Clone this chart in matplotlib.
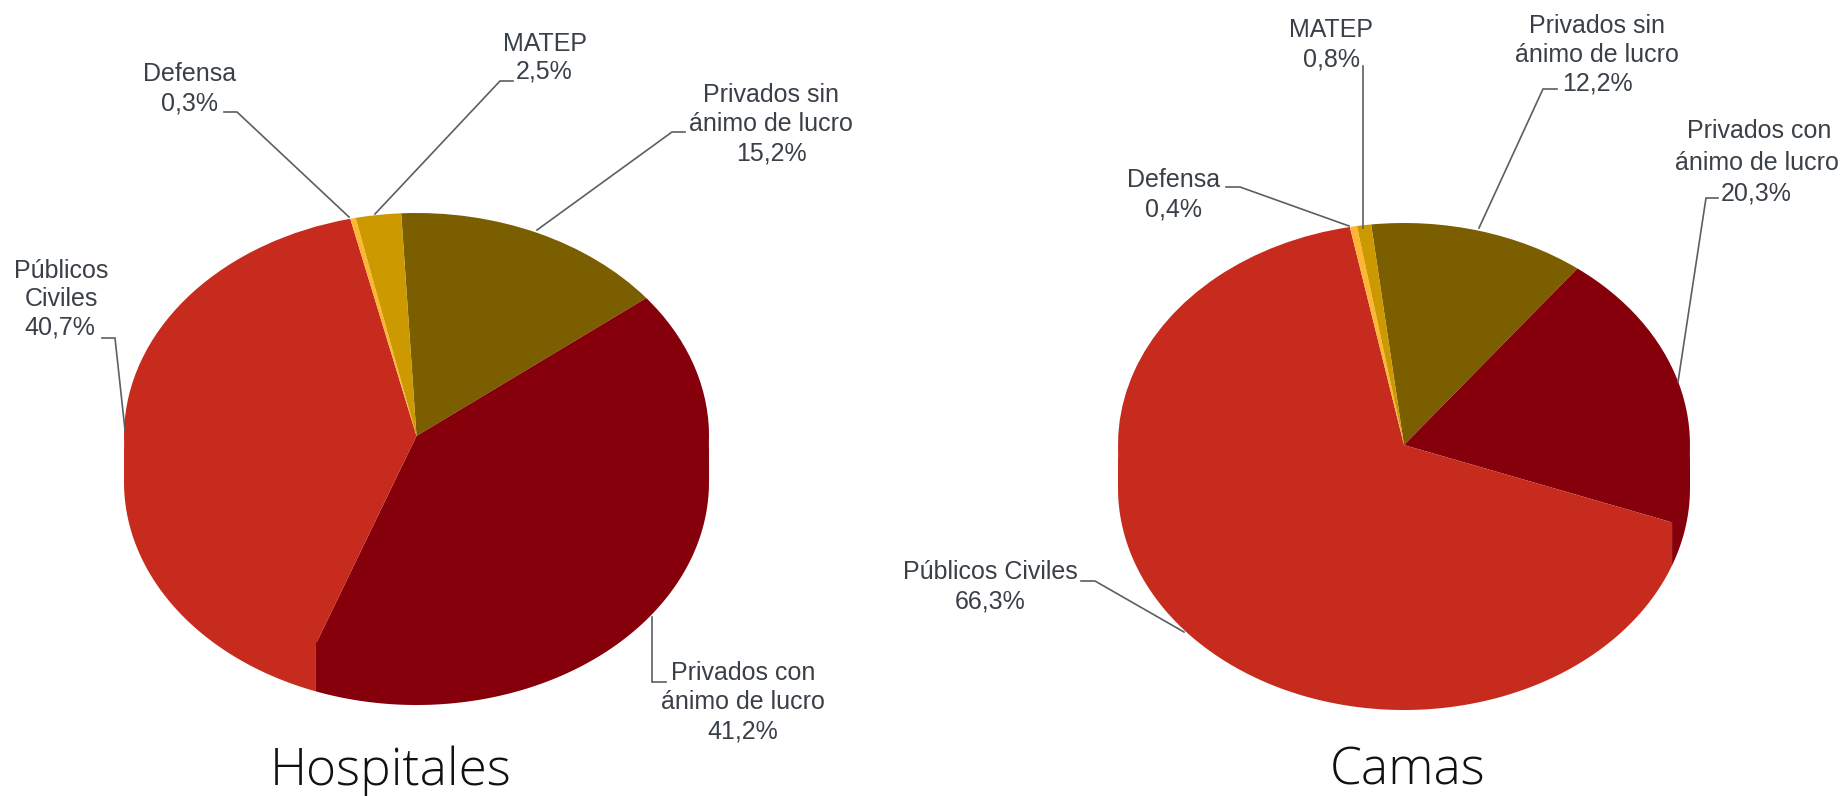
import numpy as np
import matplotlib
matplotlib.use("Agg")
import matplotlib.pyplot as plt

W, H = 1843, 796

categories = ["Privados sin ánimo de lucro", "Privados con ánimo de lucro",
              "Públicos Civiles", "Defensa", "MATEP"]
hospitales = [15.2, 41.2, 40.7, 0.3, 2.5]
camas = [12.2, 20.3, 66.3, 0.4, 0.8]
colors = ["#7B5E00", "#85000B", "#C72B1E", "#FFB733", "#CC9900"]

fig = plt.figure(figsize=(W / 100, H / 100), dpi=100, facecolor="white")


def pie3d(values, cx, cy, rx, ry, depth, start):
    left = (cx - rx) / W
    bottom = 1 - (cy + ry + depth) / H
    ax = fig.add_axes([left, bottom, 2 * rx / W, (2 * ry + depth) / H])
    wedges, _ = ax.pie(values, colors=colors, startangle=start, counterclock=False,
                       radius=1, wedgeprops={"linewidth": 0})
    d = depth / ry
    for w, c in zip(wedges, colors):
        t = np.radians(np.linspace(w.theta1, w.theta2, 400))
        t = t[np.sin(t) <= 0]
        if len(t) > 1:
            xs = np.cos(t)
            ys = np.sin(t)
            # the wall runs a little under the top face so no seam shows
            ax.fill(np.r_[xs, xs[::-1]], np.r_[ys + 0.02, ys[::-1] - d],
                    color=c, lw=0, zorder=0.5)
    ax.set_aspect("auto")
    ax.set_xlim(-1, 1)
    ax.set_ylim(-1 - d, 1)
    ax.axis("off")
    ax.patch.set_alpha(0)


pie3d(hospitales, 416.5, 436, 292.5, 223, 46, 93)
pie3d(camas, 1404, 445, 286, 222, 43, 96.6)

ov = fig.add_axes([0, 0, 1, 1], zorder=5)
ov.set_xlim(0, W)
ov.set_ylim(H, 0)
ov.axis("off")
ov.patch.set_alpha(0)

TXT = "#3A4047"
LINE = "#5A5F63"


def label(x, y, s, size=18):
    ov.text(x, y, s, ha="center", va="center", fontsize=size, color=TXT,
            family="Liberation Sans")


def leader(xs, ys):
    ov.plot(xs, ys, color=LINE, lw=1.2, solid_joinstyle="miter", zorder=1)


label(190, 74, "Defensa")
label(189, 104, "0,3%")
leader([224, 237, 349], [112, 112, 217])

label(545, 44, "MATEP")
label(544, 72, "2,5%")
leader([513, 500, 375], [81, 81, 214])

label(771, 95, "Privados sin")
label(771, 124, "ánimo de lucro")
label(771, 153, "15,2%")
leader([685, 672, 537], [132, 132, 230])

label(61, 271, "Públicos")
label(61, 299, "Civiles")
label(60, 327, "40,7%")
leader([102, 115, 125], [338, 338, 430])

label(743, 673, "Privados con")
label(743, 702, "ánimo de lucro")
label(743, 731, "41,2%")
leader([652, 652, 666], [617, 682, 682])

label(1174, 180, "Defensa")
label(1174, 210, "0,4%")
leader([1226, 1240, 1349], [187, 187, 226])

label(1331, 30, "MATEP")
label(1332, 59, "0,8%")
leader([1363, 1363], [66, 228])

label(1597, 26, "Privados sin")
label(1597, 55, "ánimo de lucro")
label(1597, 84, "12,2%")
leader([1557, 1543, 1479], [89, 89, 228])

label(1759, 131, "Privados con")
label(1757, 163, "ánimo de lucro")
label(1756, 193, "20,3%")
leader([1718, 1706, 1678], [198, 198, 382])

label(990, 572, "Públicos Civiles")
label(990, 602, "66,3%")
leader([1081, 1095, 1184], [581, 581, 632])

for x, s in [(391, "Hospitales"), (1408, "Camas")]:
    ov.text(x, 771, s, ha="center", va="center", fontsize=37, color="#111111",
            family="Open Sans", fontweight="light")

fig.savefig("out.png", dpi=100, facecolor="white")
